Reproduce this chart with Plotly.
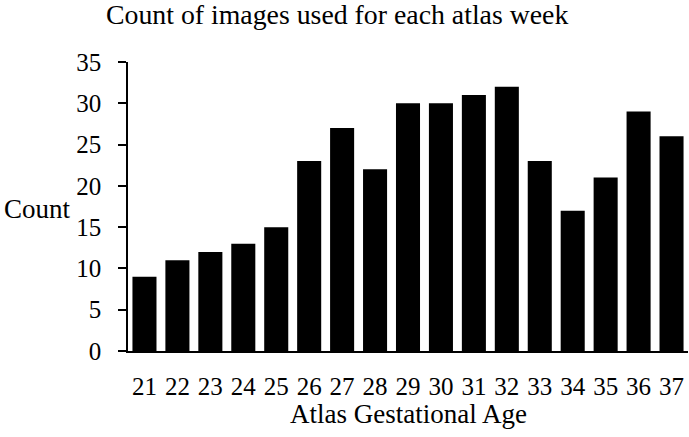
import plotly.graph_objects as go

weeks = ["21", "22", "23", "24", "25", "26", "27", "28", "29", "30", "31", "32", "33", "34", "35", "36", "37"]
counts = [9, 11, 12, 13, 15, 23, 27, 22, 30, 30, 31, 32, 23, 17, 21, 29, 26]
y_ticks = [0, 5, 10, 15, 20, 25, 30, 35]

FONT = "Liberation Serif, Times New Roman, serif"
TICK = 25
LAB = 27

fig = go.Figure(go.Bar(x=weeks, y=counts, marker_color="black", marker_line_width=0))

fig.update_layout(
    width=689, height=437,
    margin=dict(l=128, r=1, t=62, b=86),
    paper_bgcolor="white", plot_bgcolor="white",
    bargap=0.27,
    font=dict(family=FONT, size=TICK, color="black"),
    showlegend=False,
)
fig.update_xaxes(
    type="category", showline=True, linecolor="black", linewidth=1.5,
    ticks="", showgrid=False, tickfont=dict(size=TICK), ticklabelstandoff=12,
)
fig.update_yaxes(
    range=[0, 35], tickvals=y_ticks, showline=True, linecolor="black", linewidth=1.5,
    ticks="outside", ticklen=8, tickwidth=1.5, tickcolor="black", showgrid=False,
    zeroline=False, tickfont=dict(size=TICK), ticklabelstandoff=12,
)
# chart title
fig.add_annotation(text="Count of images used for each atlas week", xref="paper", yref="paper",
                   x=0, y=1, xanchor="left", yanchor="middle", xshift=104 - 128, yshift=62 - 14,
                   showarrow=False, font=dict(family=FONT, size=27.8, color="black"))
# y-axis title
fig.add_annotation(text="Count", xref="paper", yref="paper", x=0, y=(351 - 209) / 289,
                   xanchor="left", yanchor="middle", xshift=2 - 128, showarrow=False,
                   font=dict(family=FONT, size=LAB, color="black"))
# x-axis title
fig.add_annotation(text="Atlas Gestational Age", xref="paper", yref="paper", x=0.5, y=0,
                   xanchor="center", yanchor="middle", yshift=351 - 414, showarrow=False,
                   font=dict(family=FONT, size=LAB, color="black"))

fig.write_html("out.html", config={"displayModeBar": False},
               post_script="document.body.style.margin='0';")
